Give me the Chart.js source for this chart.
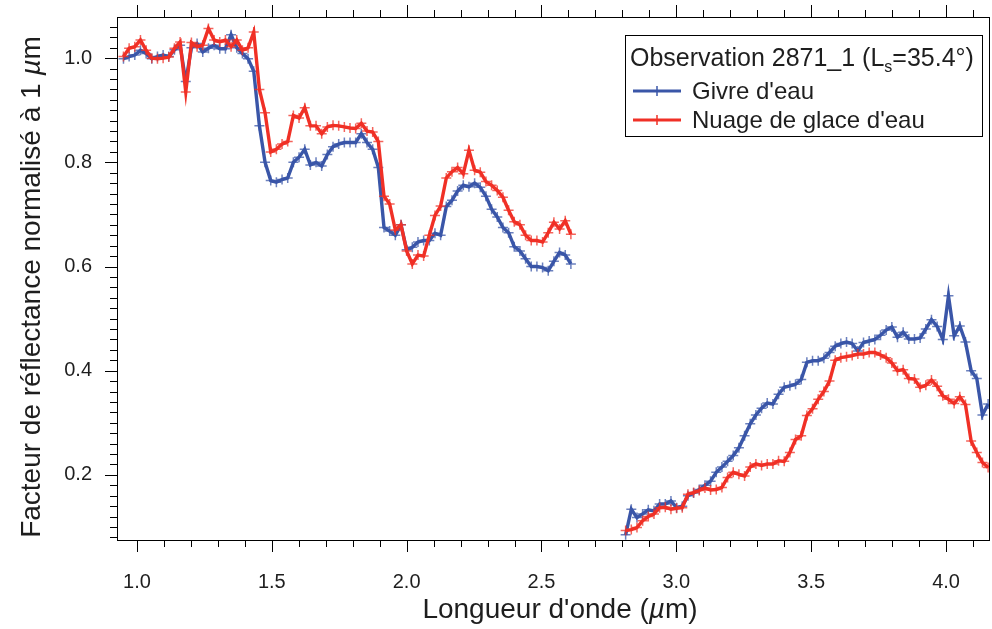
<!DOCTYPE html>
<html>
<head>
<meta charset="utf-8">
<script src="https://cdn.jsdelivr.net/npm/chart.js@4.4.1/dist/chart.umd.min.js"></script>
<style>
  html, body { margin: 0; padding: 0; background: #fff; }
  #wrap { width: 992px; height: 629px; }
</style>
</head>
<body>
<div id="wrap"><canvas id="chart" width="992" height="629"></canvas></div>
<script>
// longueurs d'onde (µm), voie courte puis voie longue
const longueurs1 = [0.950, 0.971, 0.992, 1.013, 1.034, 1.055, 1.076, 1.097, 1.118, 1.139,
    1.160, 1.181, 1.202, 1.223, 1.244, 1.265, 1.286, 1.307, 1.328, 1.349,
    1.370, 1.391, 1.412, 1.433, 1.454, 1.475, 1.496, 1.517, 1.538, 1.559,
    1.580, 1.601, 1.622, 1.643, 1.664, 1.685, 1.706, 1.727, 1.748, 1.769,
    1.790, 1.811, 1.832, 1.853, 1.874, 1.895, 1.916, 1.937, 1.958, 1.979,
    2.000, 2.021, 2.042, 2.063, 2.084, 2.105, 2.126, 2.147, 2.168, 2.189,
    2.210, 2.231, 2.252, 2.273, 2.294, 2.315, 2.336, 2.357, 2.378, 2.399,
    2.420, 2.441, 2.462, 2.483, 2.504, 2.525, 2.546, 2.567, 2.588, 2.609];
const longueurs2 = [2.812, 2.833, 2.854, 2.875, 2.896, 2.917, 2.938, 2.959, 2.980, 3.001,
    3.022, 3.043, 3.064, 3.085, 3.106, 3.127, 3.148, 3.169, 3.190, 3.211,
    3.232, 3.253, 3.274, 3.295, 3.316, 3.337, 3.358, 3.379, 3.400, 3.421,
    3.442, 3.463, 3.484, 3.505, 3.526, 3.547, 3.568, 3.589, 3.610, 3.631,
    3.652, 3.673, 3.694, 3.715, 3.736, 3.757, 3.778, 3.799, 3.820, 3.841,
    3.862, 3.883, 3.904, 3.925, 3.946, 3.967, 3.988, 4.009, 4.030, 4.051,
    4.072, 4.093, 4.114, 4.135, 4.156];

// Givre d'eau
const givre1 = [0.999, 1.003, 1.006, 1.015, 1.009, 0.999, 1.003, 1.006, 1.003, 1.016,
    1.025, 0.955, 1.020, 1.028, 1.012, 1.019, 1.025, 1.018, 1.018, 1.045,
    1.020, 1.009, 0.999, 0.975, 0.870, 0.800, 0.765, 0.762, 0.767, 0.770,
    0.800, 0.810, 0.825, 0.795, 0.800, 0.793, 0.815, 0.830, 0.835, 0.838,
    0.838, 0.838, 0.855, 0.838, 0.825, 0.790, 0.675, 0.668, 0.660, 0.680,
    0.632, 0.637, 0.647, 0.650, 0.650, 0.664, 0.660, 0.715, 0.727, 0.745,
    0.756, 0.753, 0.760, 0.752, 0.735, 0.710, 0.695, 0.675, 0.665, 0.638,
    0.630, 0.615, 0.600, 0.600, 0.598, 0.592, 0.610, 0.627, 0.622, 0.605];
const givre2 = [0.085, 0.134, 0.118, 0.125, 0.133, 0.131, 0.144, 0.144, 0.150, 0.137,
    0.140, 0.160, 0.165, 0.172, 0.180, 0.188, 0.205, 0.215, 0.226, 0.237,
    0.252, 0.275, 0.298, 0.315, 0.328, 0.338, 0.336, 0.355, 0.368, 0.371,
    0.374, 0.383, 0.416, 0.419, 0.419, 0.424, 0.435, 0.447, 0.452, 0.455,
    0.452, 0.438, 0.454, 0.457, 0.460, 0.468, 0.478, 0.484, 0.464, 0.474,
    0.461, 0.461, 0.463, 0.480, 0.498, 0.485, 0.460, 0.544, 0.467, 0.486,
    0.455, 0.400, 0.385, 0.315, 0.336];

// Nuage de glace d'eau
const nuage1 = [1.003, 1.019, 1.022, 1.035, 1.015, 1.000, 0.999, 1.000, 1.002, 1.019,
    1.031, 0.935, 1.030, 1.022, 1.025, 1.057, 1.035, 1.031, 1.035, 1.022,
    1.035, 1.015, 1.020, 1.050, 0.940, 0.895, 0.820, 0.825, 0.835, 0.840,
    0.890, 0.885, 0.905, 0.870, 0.870, 0.855, 0.868, 0.871, 0.870, 0.868,
    0.866, 0.865, 0.875, 0.860, 0.858, 0.840, 0.735, 0.720, 0.670, 0.680,
    0.630, 0.605, 0.622, 0.620, 0.660, 0.698, 0.716, 0.770, 0.782, 0.790,
    0.778, 0.823, 0.785, 0.781, 0.763, 0.756, 0.746, 0.733, 0.708, 0.686,
    0.680, 0.660, 0.650, 0.650, 0.647, 0.665, 0.685, 0.672, 0.688, 0.662];
const nuage2 = [0.093, 0.095, 0.099, 0.112, 0.120, 0.125, 0.137, 0.138, 0.134, 0.136,
    0.137, 0.163, 0.166, 0.170, 0.175, 0.171, 0.172, 0.176, 0.195, 0.205,
    0.201, 0.198, 0.215, 0.221, 0.218, 0.221, 0.221, 0.227, 0.226, 0.243,
    0.268, 0.275, 0.314, 0.327, 0.345, 0.360, 0.380, 0.420, 0.425, 0.427,
    0.429, 0.432, 0.432, 0.435, 0.435, 0.430, 0.425, 0.415, 0.400, 0.402,
    0.385, 0.384, 0.368, 0.372, 0.382, 0.370, 0.352, 0.345, 0.337, 0.350,
    0.335, 0.265, 0.243, 0.224, 0.214];

const xMajorTicks = [1.0, 1.5, 2.0, 2.5, 3.0, 3.5, 4.0];
const yMajorTicks = [0.2, 0.4, 0.6, 0.8, 1.0];

const BLEU = 'rgb(58, 86, 168)';
const ROUGE = 'rgb(240, 48, 38)';
const TEXTE = '#1e1e1e';

function points(xs, ys) {
    return xs.map((x, i) => ({ x: x, y: ys[i] }));
}
const trou = (longueurs1[longueurs1.length - 1] + longueurs2[0]) / 2;

function serie(label, a, b, couleur, croix, ordre) {
    return {
        label: label,
        data: [...points(longueurs1, a), { x: trou, y: null }, ...points(longueurs2, b)],
        borderColor: couleur,
        borderWidth: 3.4,
        pointStyle: 'cross',
        pointRadius: 5,
        pointBorderWidth: 1.5,
        pointBorderColor: croix,
        pointBackgroundColor: croix,
        spanGaps: false,
        tension: 0,
        order: ordre,
    };
}

// écrit une suite de morceaux de texte (normal / italique / indice)
function morceaux(ctx, parts, x, y, taille, centre) {
    const police = (p) => `${p.italic ? 'italic ' : ''}${p.sub ? Math.round(taille * 0.62) : taille}px "Liberation Sans", Arial, sans-serif`;
    let total = 0;
    parts.forEach((p) => { ctx.font = police(p); total += ctx.measureText(p.t).width; });
    let cx = centre ? x - total / 2 : x;
    parts.forEach((p) => {
        ctx.font = police(p);
        ctx.fillText(p.t, cx, p.sub ? y + taille * 0.22 : y);
        cx += ctx.measureText(p.t).width;
    });
}

const cadre = {
    id: 'cadre',
    afterDraw(chart) {
        const ctx = chart.ctx;
        const a = chart.chartArea;
        const sx = chart.scales.x;
        const sy = chart.scales.y;
        ctx.save();
        ctx.strokeStyle = '#000';
        ctx.lineWidth = 1;
        ctx.strokeRect(a.left + 0.5, a.top + 0.5, a.right - a.left - 1, a.bottom - a.top);

        // graduations x (0.1) en bas et en haut
        ctx.beginPath();
        for (let i = Math.ceil(sx.min * 10); i <= Math.floor(sx.max * 10); i++) {
            const v = i / 10;
            const px = Math.round(sx.getPixelForValue(v)) + 0.5;
            const L = i % 5 === 0 ? 12 : 7;
            ctx.moveTo(px, a.bottom); ctx.lineTo(px, a.bottom + L);
            ctx.moveTo(px, a.top); ctx.lineTo(px, a.top - L);
        }
        // graduations y (0.02) à gauche
        for (let i = Math.ceil(sy.min * 50); i <= Math.floor(sy.max * 50); i++) {
            const v = i / 50;
            const py = Math.round(sy.getPixelForValue(v)) + 0.5;
            const L = i % 10 === 0 ? 12 : 7;
            ctx.moveTo(a.left, py); ctx.lineTo(a.left - L, py);
        }
        ctx.stroke();

        // titres des axes
        ctx.fillStyle = TEXTE;
        ctx.textBaseline = 'alphabetic';
        ctx.textAlign = 'left';
        morceaux(ctx, [{ t: "Longueur d'onde (" }, { t: 'µ', italic: true }, { t: 'm)' }],
            560, 618, 28, true);
        ctx.save();
        ctx.translate(40, 287);
        ctx.rotate(-Math.PI / 2);
        morceaux(ctx, [{ t: 'Facteur de réflectance normalisé à 1 ' }, { t: 'µ', italic: true }, { t: 'm' }],
            0, 0, 28, true);
        ctx.restore();

        // légende
        ctx.fillStyle = '#fff';
        ctx.fillRect(625, 35, 358, 101);
        ctx.strokeStyle = '#000';
        ctx.strokeRect(625.5, 35.5, 357, 101);
        ctx.fillStyle = TEXTE;
        morceaux(ctx, [{ t: 'Observation 2871_1 (L' }, { t: 's', sub: true }, { t: '=35.4°)' }], 630, 66, 25, false);
        const entrees = [
            { t: "Givre d'eau", c: BLEU, y: 91 },
            { t: "Nuage de glace d'eau", c: ROUGE, y: 120 },
        ];
        entrees.forEach((e) => {
            ctx.strokeStyle = e.c;
            ctx.lineWidth = 3;
            ctx.beginPath();
            ctx.moveTo(633, e.y); ctx.lineTo(681, e.y);
            ctx.stroke();
            ctx.lineWidth = 1.5;
            ctx.beginPath();
            ctx.moveTo(657, e.y - 5); ctx.lineTo(657, e.y + 5);
            ctx.stroke();
            ctx.fillStyle = TEXTE;
            morceaux(ctx, [{ t: e.t }], 692, e.y + 8, 24, false);
        });
        ctx.restore();
    },
};

const tickFont = { family: '"Liberation Sans", Arial, sans-serif', size: 20 };

new Chart(document.getElementById('chart'), {
    type: 'line',
    data: {
        datasets: [
            serie("Givre d'eau", givre1, givre2, BLEU, 'rgba(58, 86, 168, 0.75)', 2),
            serie("Nuage de glace d'eau", nuage1, nuage2, ROUGE, 'rgba(240, 48, 38, 0.75)', 1),
        ],
    },
    options: {
        responsive: false,
        animation: false,
        devicePixelRatio: 1,
        layout: { autoPadding: false, padding: { top: 17, right: 2, left: 0, bottom: 0 } },
        plugins: { legend: { display: false }, tooltip: { enabled: false } },
        scales: {
            x: {
                type: 'linear',
                min: 0.926,
                max: 4.163,
                grid: { display: false },
                border: { display: false },
                afterBuildTicks: (s) => { s.ticks = xMajorTicks.map((v) => ({ value: v })); },
                afterFit: (s) => { s.height = 89; s.paddingLeft = 0; s.paddingRight = 0; },
                ticks: {
                    padding: 22,
                    font: tickFont,
                    color: TEXTE,
                    maxRotation: 0,
                    autoSkip: false,
                    callback: (v) => Number(v).toFixed(1),
                },
            },
            y: {
                min: 0.075,
                max: 1.079,
                grid: { display: false },
                border: { display: false },
                afterBuildTicks: (s) => { s.ticks = yMajorTicks.map((v) => ({ value: v })); },
                afterFit: (s) => { s.width = 117; s.paddingTop = 0; s.paddingBottom = 0; },
                ticks: {
                    padding: 17,
                    font: tickFont,
                    color: TEXTE,
                    autoSkip: false,
                    callback: (v) => Number(v).toFixed(1),
                },
            },
        },
    },
    plugins: [cadre],
});
</script>
</body>
</html>
